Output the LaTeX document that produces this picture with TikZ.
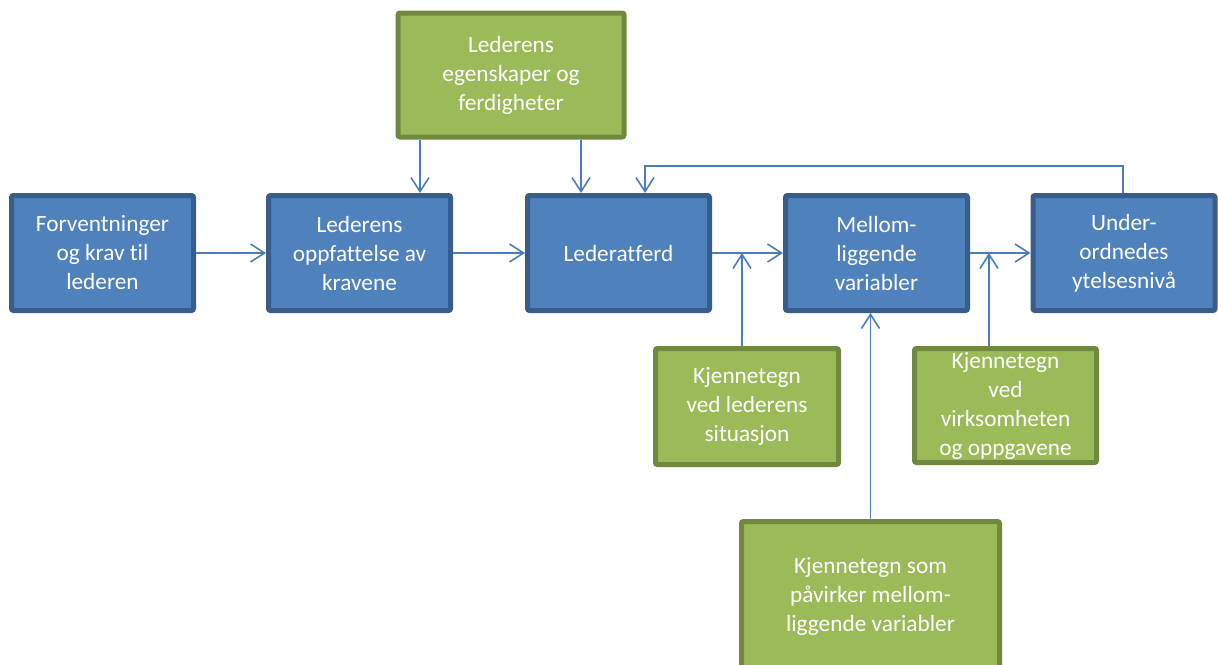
\documentclass[tikz,border=0pt]{standalone}
\usepackage{fontspec}
\setmainfont{Carlito}[Ligatures={NoCommon}]
\usetikzlibrary{arrows.meta}
\definecolor{bfill}{HTML}{4F81BD}
\definecolor{bline}{HTML}{385D8A}
\definecolor{gfill}{HTML}{9BBB59}
\definecolor{gline}{HTML}{71893F}
\definecolor{arr}{HTML}{4A7EBB}
\tikzset{
  base/.style={rectangle, rounded corners=2pt, line width=5pt, align=center, text=white,
    font=\fontsize{23.3}{29}\selectfont, inner sep=0pt},
  bluebox/.style={base, draw=bline, fill=bfill, minimum width=182pt, minimum height=115pt},
  greenbox/.style={base, draw=gline, fill=gfill},
  conn/.style={draw=arr, line width=1.8pt, -{Straight Barb[length=14pt,width=18pt,line width=1.6pt]}},
  plain/.style={draw=arr, line width=1.8pt}
}
\begin{document}
\begin{tikzpicture}[x=1pt,y=-1pt]
\useasboundingbox (0,0) rectangle (1218,664);
\clip (0,0) rectangle (1218,664);
\node[bluebox] (b1) at (102.5,253) {Forventninger\\og krav til\\lederen};
\node[bluebox] (b2) at (359.5,253) {Lederens\\oppfattelse av\\kravene};
\node[bluebox] (b3) at (618.5,253) {Lederatferd};
\node[bluebox] (b4) at (876.5,253) {Mellom-\\liggende\\variabler};
\node[bluebox] (b5) at (1124,253) {Under-\\ordnedes\\ytelsesnivå};
\node[greenbox, minimum width=226pt, minimum height=124pt] (g1) at (511,75) {Lederens\\egenskaper og\\ferdigheter};
\node[greenbox, minimum width=183pt, minimum height=116pt] (g2) at (747,406.5) {Kjennetegn\\ved lederens\\situasjon};
\node[greenbox, minimum width=182pt, minimum height=114pt] (g3) at (1005.5,405.5) {Kjennetegn\\ved\\virksomheten\\og oppgavene};
\node[greenbox, minimum width=258pt, minimum height=150pt] (g4) at (870.5,596.5) {Kjennetegn som\\påvirker mellom-\\liggende variabler};
\coordinate (a1) at (420,0);
\coordinate (a2) at (581,0);
\coordinate (a3) at (742,0);
\coordinate (a4) at (989,0);
\coordinate (a5) at (1123,0);
\coordinate (a6) at (645,0);
\coordinate (fb1) at (1123,166);
\coordinate (fb2) at (645,166);
\draw[conn] (b1.east) -- (b2.west);
\draw[conn] (b2.east) -- (b3.west);
\draw[conn] (b3.east) -- (b4.west);
\draw[conn] (b4.east) -- (b5.west);
\draw[conn] (g1.south -| a1) -- (b2.north -| a1);
\draw[conn] (g1.south -| a2) -- (b3.north -| a2);
\draw[conn] (g2.north -| a3) -- (b3.east -| a3);
\draw[conn] (g3.north -| a4) -- (b4.east -| a4);
\draw[conn] (g4.north) -- (g4.north |- b4.south);
\draw[conn] (b5.north -| a5) -- (fb1) -- (fb2) -- (b3.north -| a6);
\end{tikzpicture}
\end{document}
